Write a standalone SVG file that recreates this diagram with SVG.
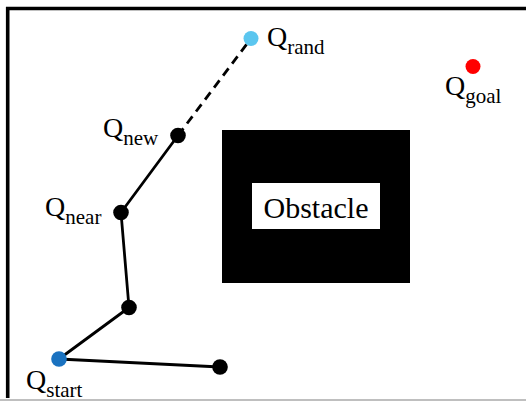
<svg xmlns="http://www.w3.org/2000/svg" width="526" height="401" viewBox="0 0 526 401">
  <style>
    .lbl { font-family: "Liberation Serif", "Times New Roman", serif; fill: #000; }
    .q { font-size: 28px; }
    .sub { font-size: 21px; }
    .edge { stroke: #000; stroke-width: 2.8; fill: none; stroke-linecap: round; }
    .dash { stroke-dasharray: 9 6; stroke-linecap: butt; }
    .node { fill: #000; }
  </style>
  <rect x="0" y="0" width="526" height="401" fill="#fff"/>
  <!-- frame -->
  <path d="M7.7 398 V8.5 H526" fill="none" stroke="#000" stroke-width="3.6"/>
  <line x1="0" y1="400" x2="526" y2="400" stroke="#aaa" stroke-width="1.5"/>

  <!-- obstacle -->
  <g id="obstacle">
    <rect x="222" y="130" width="188" height="153" fill="#000"/>
    <rect x="252" y="183" width="128" height="46" fill="#fff"/>
    <text class="lbl" x="316" y="218" font-size="30" text-anchor="middle">Obstacle</text>
  </g>

  <!-- tree edges -->
  <g id="connectors">
    <line class="edge dash" x1="178" y1="135.5" x2="251" y2="38.5"/>
    <line class="edge" x1="178" y1="135.5" x2="121" y2="212.5"/>
    <line class="edge" x1="121" y1="212.5" x2="129" y2="307.5"/>
    <line class="edge" x1="129" y1="307.5" x2="59" y2="359"/>
    <line class="edge" x1="59" y1="359" x2="220" y2="367"/>
  </g>

  <g id="q-rand">
    <circle cx="251" cy="38.5" r="7.5" fill="#5bc6ef"/>
    <text class="lbl" x="267" y="46"><tspan class="q">Q</tspan><tspan class="sub" dy="8">rand</tspan></text>
  </g>
  <g id="q-new">
    <circle class="node" cx="178" cy="135.5" r="7.8"/>
    <text class="lbl" x="103" y="137"><tspan class="q">Q</tspan><tspan class="sub" dy="8">new</tspan></text>
  </g>
  <g id="q-near">
    <circle class="node" cx="121" cy="212.5" r="7.8"/>
    <text class="lbl" x="45" y="216"><tspan class="q">Q</tspan><tspan class="sub" dy="8">near</tspan></text>
  </g>
  <g id="node-mid">
    <circle class="node" cx="129" cy="307.5" r="7.8"/>
  </g>
  <g id="q-start">
    <circle cx="59" cy="359" r="7.8" fill="#1a72c0"/>
    <text class="lbl" x="26" y="389"><tspan class="q">Q</tspan><tspan class="sub" dy="8">start</tspan></text>
  </g>
  <g id="node-end">
    <circle class="node" cx="220" cy="367" r="7.8"/>
  </g>
  <g id="q-goal">
    <circle cx="473" cy="66.5" r="7.5" fill="#f00"/>
    <text class="lbl" x="445" y="95"><tspan class="q">Q</tspan><tspan class="sub" dy="8">goal</tspan></text>
  </g>
</svg>
